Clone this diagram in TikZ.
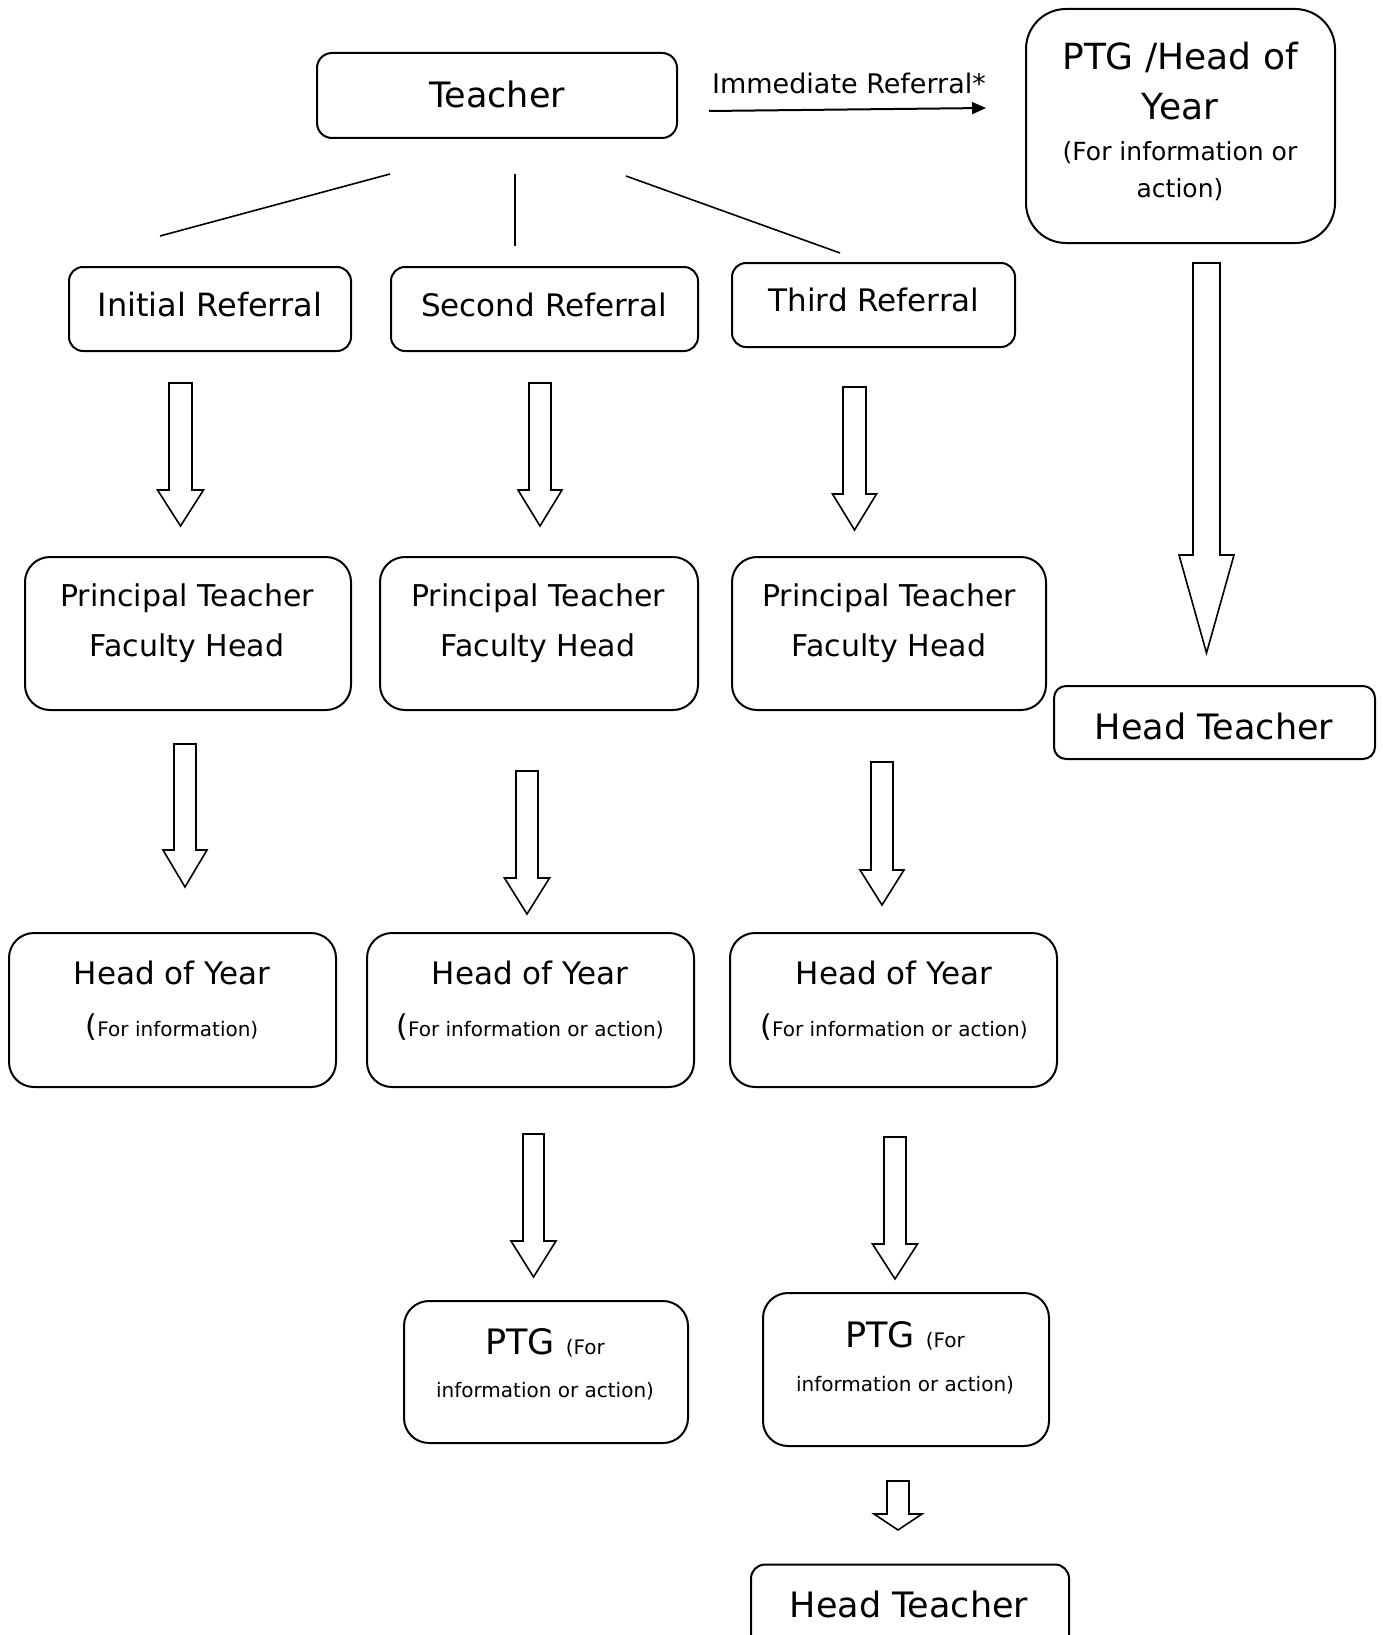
\documentclass[tikz,border=0pt]{standalone}
\usepackage{fontspec}
\setmainfont{DejaVu Sans}
\usetikzlibrary{arrows.meta}
\newcommand\fsz[1]{\fontsize{#1}{#1}\selectfont}
\tikzset{
  box/.style={draw, line width=2pt, rounded corners=#1, fill=white, inner sep=0pt},
  box/.default=25pt,
  barrow/.style={draw, line width=1.6pt, fill=white, line join=miter},
  fan/.style={line width=1.6pt},
  txt/.style={inner sep=0pt, anchor=center}
}
\newcommand\blockarr[6]{%
  \draw[barrow] ({#1-#5},#2) -- ({#1+#5},#2) -- ({#1+#5},#3) -- ({#1+#6},#3) -- (#1,#4) -- ({#1-#6},#3) -- ({#1-#5},#3) -- cycle;}
\begin{document}
\begin{tikzpicture}[x=1pt,y=-1pt]
\useasboundingbox[fill=white] (0,0) rectangle (1383,1635);

% boxes
\node[box=15pt, minimum width=360pt, minimum height=85pt] (teacher) at (497,95.5) {};
\node[box=40pt, minimum width=309pt, minimum height=234pt] (ptghoy) at (1180.5,126) {};
\node[box=14pt, minimum width=282pt, minimum height=84pt] (ref1) at (210,309) {};
\node[box=14pt, minimum width=307pt, minimum height=84pt] (ref2) at (544.5,309) {};
\node[box=14pt, minimum width=283pt, minimum height=84pt] (ref3) at (873.5,305) {};
\node[box, minimum width=326pt, minimum height=153pt] (pt1) at (188,633.5) {};
\node[box, minimum width=318pt, minimum height=153pt] (pt2) at (539,633.5) {};
\node[box, minimum width=314pt, minimum height=153pt] (pt3) at (889,633.5) {};
\node[box=12pt, minimum width=321pt, minimum height=73pt] (ht1) at (1214.5,722.5) {};
\node[box, minimum width=327pt, minimum height=154pt] (hoy1) at (172.5,1010) {};
\node[box, minimum width=327pt, minimum height=154pt] (hoy2) at (530.5,1010) {};
\node[box, minimum width=327pt, minimum height=154pt] (hoy3) at (893.5,1010) {};
\node[box, minimum width=284pt, minimum height=142pt] (ptg1) at (546,1372) {};
\node[box, minimum width=286pt, minimum height=153pt] (ptg2) at (906,1369.5) {};
\node[box=14pt, minimum width=318pt, minimum height=85pt] (ht2) at (910,1607) {};

% texts
\node[txt] (teacher-t) at (497,94) {\fsz{35}Teacher};
\node[txt] (ir-t) at (849,83) {\fsz{27}Immediate Referral*};
\node[txt] (ptghoy-t1) at (1180,57) {\fsz{36}PTG /Head of};
\node[txt] (ptghoy-t2) at (1180,107) {\fsz{36}Year};
\node[txt] (ptghoy-t3) at (1180,153) {\fsz{25}(For information or};
\node[txt] (ptghoy-t4) at (1180,190) {\fsz{25}action)};
\node[txt] (ref1-t) at (210,305) {\fsz{32}Initial Referral};
\node[txt] (ref2-t) at (544,305) {\fsz{31}Second Referral};
\node[txt] (ref3-t) at (874,300) {\fsz{31}Third Referral};
\foreach \n/\x in {pt1/187, pt2/538, pt3/889}{
  \node[txt] (\n-t1) at (\x,598) {\fsz{30}Principal Teacher};
  \node[txt] (\n-t2) at (\x,648) {\fsz{30}Faculty Head};
}
\node[txt] (ht1-t) at (1214,726) {\fsz{35}Head Teacher};
\foreach \n/\x in {hoy1/172, hoy2/530, hoy3/894}{
  \node[txt] (\n-t1) at (\x,973) {\fsz{31}Head of Year};
}
\node[txt] (hoy1-t2) at (172,1027) {\fsz{30}(\fsz{20}For information)};
\node[txt] (hoy2-t2) at (530,1027) {\fsz{30}(\fsz{20}For information or action)};
\node[txt] (hoy3-t2) at (894,1027) {\fsz{30}(\fsz{20}For information or action)};
\node[txt] (ptg1-t1) at (545,1343) {\fsz{35}PTG \fsz{20}(For};
\node[txt] (ptg1-t2) at (545,1391) {\fsz{20}information or action)};
\node[txt] (ptg2-t1) at (905,1336) {\fsz{35}PTG \fsz{20}(For};
\node[txt] (ptg2-t2) at (905,1385) {\fsz{20}information or action)};
\node[txt] (ht2-t) at (909,1604) {\fsz{35}Head Teacher};

% immediate referral arrow
\coordinate (ir-s) at (709,111);
\coordinate (ir-e) at (986,108);
\draw[line width=2pt, -{Triangle[length=14pt,width=12pt]}] (ir-s) -- (ir-e);

% fan lines
\coordinate (f1a) at (390,174); \coordinate (f1b) at (160,236);
\coordinate (f2a) at (515,174); \coordinate (f2b) at (515,246);
\coordinate (f3a) at (626,176); \coordinate (f3b) at (840,253);
\draw[fan] (f1a) -- (f1b);
\draw[fan] (f2a) -- (f2b);
\draw[fan] (f3a) -- (f3b);

% block arrows
\blockarr{180.5}{383}{490}{526}{11.5}{23}
\blockarr{540}{383}{490}{526}{11}{22}
\blockarr{854.5}{387}{494}{530}{11.5}{22}
\blockarr{1206.5}{263}{555}{653}{13.5}{27.5}
\blockarr{185}{744}{850}{887}{11}{22}
\blockarr{527}{771}{878}{914}{11}{22.5}
\blockarr{882}{762}{870}{905}{11}{22}
\blockarr{533.5}{1134}{1241}{1277}{10.5}{22.5}
\blockarr{895}{1137}{1244}{1279}{11}{22.5}
\blockarr{898}{1481}{1514}{1530}{11}{24}
\end{tikzpicture}
\end{document}
